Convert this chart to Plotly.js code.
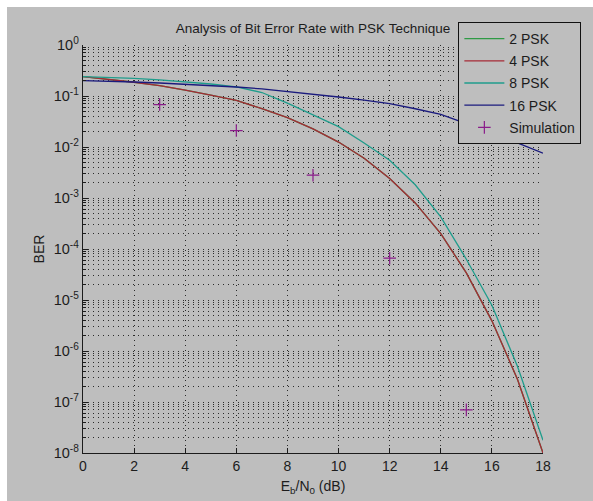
<!DOCTYPE html>
<html>
<head>
<meta charset="utf-8">
<script src="https://cdn.plot.ly/plotly-3.0.1.min.js"></script>
<style>
  body { margin: 0; background: #ffffff; }
  #plot { position: absolute; left: 7px; top: 7px; width: 586px; height: 494px; }
</style>
</head>
<body>
<div id="plot"></div>
<script>
// ---- data ----
const ebn0 = [0, 1, 2, 3, 4, 5, 6, 7, 8, 9, 10, 11, 12, 13, 14, 15, 16, 17, 18];
const psk2 = [0.239, 0.213, 0.186, 0.159, 0.131, 0.104, 0.082, 0.0564, 0.0376, 0.0227, 0.0125, 0.00603, 0.0024, 8.0e-4, 2.0e-4, 3.4e-5, 3.9e-6, 2.8e-7, 1.0e-8];
const psk4 = [0.239, 0.213, 0.186, 0.159, 0.131, 0.104, 0.082, 0.0564, 0.0376, 0.0227, 0.0125, 0.00603, 0.0024, 8.0e-4, 2.0e-4, 3.4e-5, 3.9e-6, 2.8e-7, 1.0e-8];
const psk8 = [0.240, 0.232, 0.221, 0.207, 0.191, 0.172, 0.151, 0.117, 0.0724, 0.0427, 0.0251, 0.0120, 0.0055, 0.00182, 4.27e-4, 6.3e-5, 7.9e-6, 5.0e-7, 1.78e-8];
const psk16 = [0.1995, 0.195, 0.188, 0.180, 0.170, 0.160, 0.150, 0.138, 0.123, 0.107, 0.0955, 0.0832, 0.0708, 0.0562, 0.0437, 0.0288, 0.0191, 0.0120, 0.00759];
const simX = [3, 6, 9, 12, 15];
const simY = [0.068, 0.021, 0.0028, 6.6e-5, 7.0e-8];
const seriesNames = ['2 PSK', '4 PSK', '8 PSK', '16 PSK', 'Simulation'];
const xTickVals = [0, 2, 4, 6, 8, 10, 12, 14, 16, 18];
const yTickVals = [1e-8, 1e-7, 1e-6, 1e-5, 1e-4, 1e-3, 1e-2, 1e-1, 1];
const yTickText = ['10<sup>-8</sup>', '10<sup>-7</sup>', '10<sup>-6</sup>', '10<sup>-5</sup>', '10<sup>-4</sup>', '10<sup>-3</sup>', '10<sup>-2</sup>', '10<sup>-1</sup>', '10<sup>0</sup>'];

// ---- styling ----
const bg = '#bebebe';
const ink = '#1c1c1c';
const gridDash = '1px,4px';
const gridCol = '#2a2a2a';
const font = 'Liberation Sans, Arial, Helvetica, sans-serif';

const minorVals = [];
for (let d = -8; d < 0; d++) {
  for (let m = 2; m <= 9; m++) minorVals.push(m * Math.pow(10, d));
}

const colors = ['#2f9a45', '#a62a36', '#1f9d8c', '#1b1b7e'];
const curves = [psk2, psk4, psk8, psk16];

const traces = curves.map((ys, i) => ({
  x: ebn0, y: ys, type: 'scatter', mode: 'lines',
  name: seriesNames[i], legendgroup: 'g' + i,
  line: { color: colors[i], width: 1.3 }
}));
traces.push({
  x: simX, y: simY, type: 'scatter', mode: 'markers',
  name: seriesNames[4], legendgroup: 'g4',
  marker: { symbol: 'cross-thin', size: 9, line: { color: '#8a1c8a', width: 1.2 }, color: '#8a1c8a' }
});

const layout = {
  width: 586, height: 494,
  paper_bgcolor: bg, plot_bgcolor: bg,
  margin: { l: 76, r: 48, t: 38, b: 48 },
  font: { family: font, color: ink, size: 13 },
  title: {
    text: 'Analysis of Bit Error Rate with PSK Technique',
    font: { family: font, size: 13.5, color: ink },
    x: 0.5, xref: 'paper', xanchor: 'center',
    y: 1 - 21 / 494, yref: 'container', yanchor: 'middle'
  },
  xaxis: {
    range: [0, 18], tickmode: 'array', tickvals: xTickVals,
    ticks: 'inside', ticklen: 5, tickcolor: ink, tickwidth: 1,
    showline: true, linecolor: ink, linewidth: 1.3, mirror: false,
    showgrid: true, gridcolor: gridCol, griddash: gridDash, gridwidth: 1,
    zeroline: false,
    tickfont: { family: font, size: 14, color: ink },
    title: { text: 'E<sub>b</sub>/N<sub>0</sub> (dB)', font: { family: font, size: 14, color: ink }, standoff: 8 }
  },
  yaxis: {
    type: 'log', range: [-8, 0],
    tickmode: 'array', tickvals: yTickVals, ticktext: yTickText,
    ticks: 'inside', ticklen: 5, tickcolor: ink, tickwidth: 1,
    showline: true, linecolor: ink, linewidth: 1.3, mirror: false,
    showgrid: true, gridcolor: gridCol, griddash: gridDash, gridwidth: 1,
    zeroline: false,
    tickfont: { family: font, size: 14.5, color: ink },
    minor: {
      tickmode: 'array', tickvals: minorVals,
      ticks: 'inside', ticklen: 3, tickcolor: ink, tickwidth: 1,
      showgrid: true, gridcolor: gridCol, griddash: gridDash, gridwidth: 1
    },
    title: { text: 'BER', font: { family: font, size: 14, color: ink }, standoff: 5 }
  },
  showlegend: true,
  legend: {
    x: 0.816, xanchor: 'left', xref: 'paper',
    y: 1.0564, yanchor: 'top', yref: 'paper',
    bgcolor: bg, bordercolor: '#111', borderwidth: 1,
    font: { family: font, size: 14, color: ink },
    itemwidth: 40,
    traceorder: 'grouped', tracegroupgap: 1
  }
};

Plotly.newPlot('plot', traces, layout, { displayModeBar: false, staticPlot: true });
</script>
</body>
</html>
